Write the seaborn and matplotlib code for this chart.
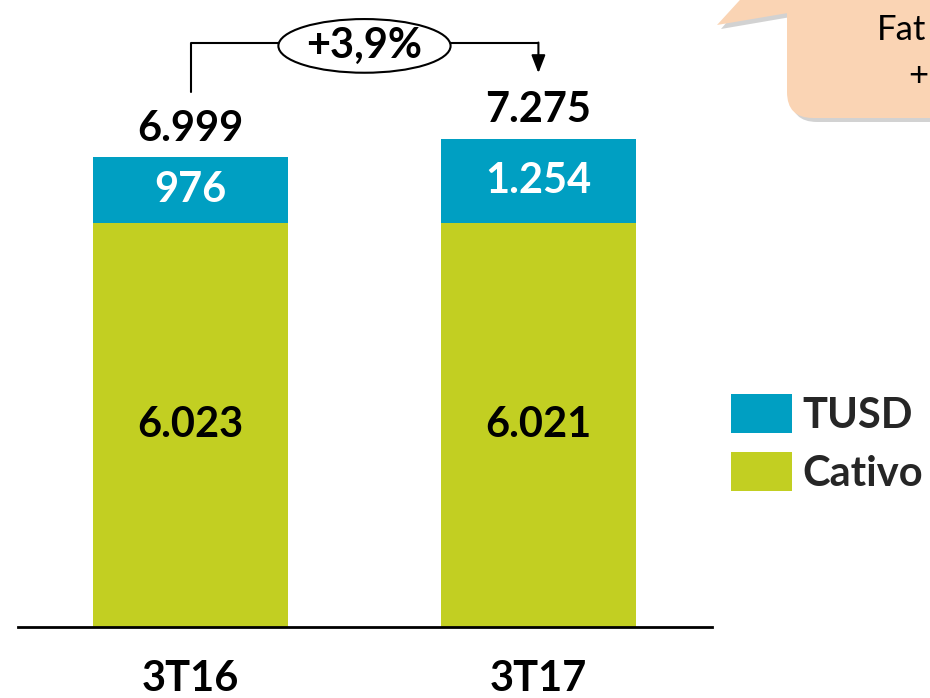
import numpy as np
import pandas as pd
import matplotlib
import matplotlib.pyplot as plt
from matplotlib.patches import Ellipse, FancyBboxPatch, Polygon, Patch
from matplotlib.transforms import IdentityTransform
import seaborn as sns

#%% data
periodos = ["3T16", "3T17"]
cativo = [6023, 6021]
tusd = [976, 1254]
series = ["TUSD", "Cativo"]

cor_tusd = "#009FC2"
cor_cativo = "#C2CF22"

def fmt(v):
    return f"{v:,}".replace(",", ".")

totais = [c + t for c, t in zip(cativo, tusd)]
df = pd.DataFrame({"periodo": periodos, "cativo": cativo, "tusd": tusd, "total": totais})

#%% plot
sns.set_theme(style="white")
plt.rcParams["font.family"] = ["Lato", "DejaVu Sans"]

fig = plt.figure(figsize=(9.3, 6.98), dpi=100)
ax = fig.add_axes([18 / 930, 71 / 698, 694 / 930, 627 / 698])

sns.barplot(data=df, x="periodo", y="total", color=cor_tusd, saturation=1,
            width=0.56, linewidth=0, ax=ax)
sns.barplot(data=df, x="periodo", y="cativo", color=cor_cativo, saturation=1,
            width=0.56, linewidth=0, ax=ax)

ax.set_xlim(-0.496, 1.499)
ax.set_ylim(0, 9344)
ax.set_xlabel("")
ax.set_ylabel("")
ax.set_yticks([])
for s in ["top", "left", "right"]:
    ax.spines[s].set_visible(False)
ax.spines["bottom"].set_color("black")
ax.spines["bottom"].set_linewidth(2)
ax.tick_params(axis="x", length=0, pad=24)
for lab in ax.get_xticklabels():
    lab.set_fontsize(30)
    lab.set_fontweight("bold")
    lab.set_color("black")

# labels on bars
for i in range(len(periodos)):
    ax.text(i, cativo[i] / 2, fmt(cativo[i]), ha="center", va="center",
            fontsize=30, fontweight="bold", color="black")
    ax.text(i, cativo[i] + tusd[i] / 2, fmt(tusd[i]), ha="center", va="center",
            fontsize=30, fontweight="bold", color="white")
    ax.text(i, totais[i] + 430, fmt(totais[i]), ha="center", va="center",
            fontsize=30, fontweight="bold", color="black")

# growth bracket
var = (totais[1] / totais[0] - 1) * 100
y_br = 8700
ax.plot([0, 0, 0.5 - 0.245], [totais[0] + 970, y_br, y_br], color="black", lw=1.5)
ax.plot([0.5 + 0.245, 1], [y_br, y_br], color="black", lw=1.5)
ax.annotate("", xy=(1, totais[1] + 980), xytext=(1, y_br + 10),
            arrowprops=dict(arrowstyle="-|>,head_width=0.35,head_length=0.9",
                            color="black", lw=1.5, shrinkA=0, shrinkB=0))
ax.add_patch(Ellipse((0.5, y_br - 40), 0.495, 800, facecolor="white",
                     edgecolor="black", lw=1.5, zorder=3))
ax.text(0.5, y_br - 40, f"+{var:.1f}%".replace(".", ","), ha="center", va="center",
        fontsize=30, fontweight="bold", color="black", zorder=4)

# legend
handles = [Patch(facecolor=cor_tusd, edgecolor="none"),
           Patch(facecolor=cor_cativo, edgecolor="none")]
leg = fig.legend(handles, series, loc="upper left", bbox_to_anchor=(731 / 930, 1 - 394 / 698),
                 frameon=False, borderpad=0, borderaxespad=0, handlelength=1.46,
                 handleheight=1.08, handletextpad=0.26, labelspacing=0.4,
                 prop={"size": 30, "weight": "bold"})

# speech bubble (cut by the figure edge)
idt = IdentityTransform()
sombra = "#b5b5b5"
fig.patches.append(FancyBboxPatch((791, 576), 400, 300, boxstyle="round,pad=0,rounding_size=26",
                                  facecolor=sombra, edgecolor="none", alpha=0.6, transform=idt))
fig.patches.append(Polygon([(721, 669), (791, 681), (791, 720), (764, 720)], closed=True,
                           facecolor=sombra, edgecolor="none", alpha=0.6, transform=idt))
fig.patches.append(FancyBboxPatch((787, 580), 400, 300, boxstyle="round,pad=0,rounding_size=26",
                                  facecolor="#FAD4B4", edgecolor="none", transform=idt))
fig.patches.append(Polygon([(717, 673), (788, 685), (788, 720), (760, 720)], closed=True,
                           facecolor="#FAD4B4", edgecolor="none", transform=idt))
fig.text(877 / 930, 1 - 40 / 698, "Fat", fontsize=25, color="black",
         ha="left", va="baseline")
fig.text(908 / 930, 1 - 86 / 698, "+", fontsize=25, color="black",
         ha="left", va="baseline")

fig.savefig("out.png", dpi=100)
